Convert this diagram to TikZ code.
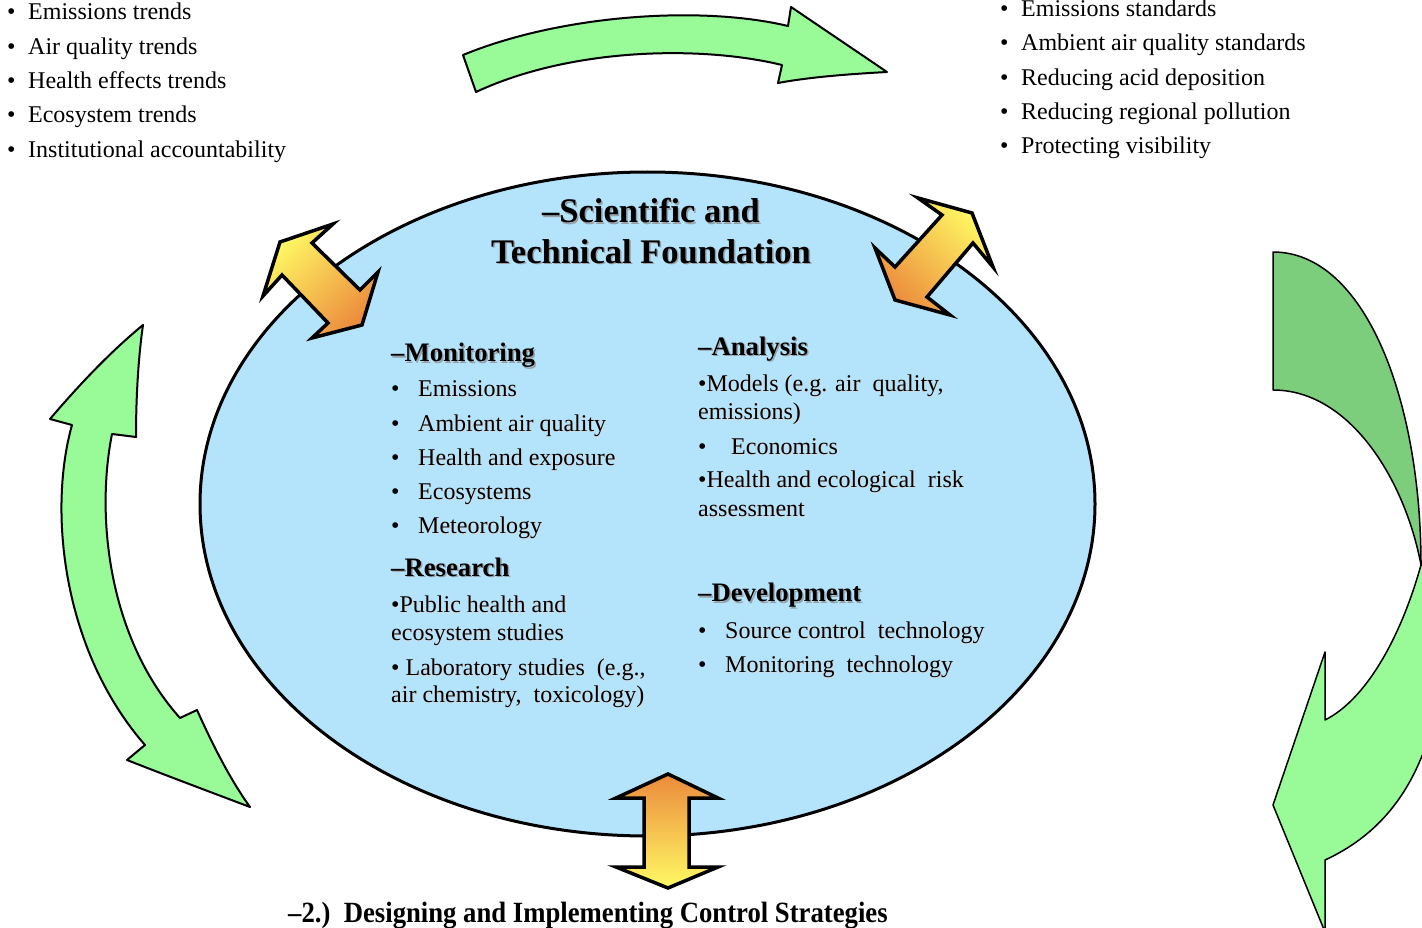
\documentclass[tikz,border=0pt]{standalone}
\usepackage{fontspec}
\setmainfont{Liberation Serif}
\usetikzlibrary{shapes.geometric}
\definecolor{skyfill}{RGB}{180,228,252}
\definecolor{lgreen}{RGB}{152,251,152}
\definecolor{dgreen}{RGB}{124,205,124}
\definecolor{arrY}{RGB}{255,250,100}
\definecolor{arrO}{RGB}{236,138,60}
\definecolor{shdgray}{RGB}{150,160,168}
\newcommand\shtext[1]{\leavevmode\rlap{\kern1.5pt\raisebox{-1.5pt}{\textcolor{shdgray}{#1}}}#1}
\newcommand\shlight[1]{\leavevmode\rlap{\kern1pt\raisebox{-1pt}{\textcolor{shdgray!40}{#1}}}#1}
\begin{document}
\begin{tikzpicture}[x=1pt,y=-1pt,
  txt/.style={anchor=base west,inner sep=0pt,font=\fontsize{24}{28}\selectfont},
  headtxt/.style={anchor=base west,inner sep=0pt,font=\fontsize{26.7}{30}\selectfont\bfseries},
  titletxt/.style={anchor=base,inner sep=0pt,font=\fontsize{34.5}{38}\selectfont\bfseries},
  greenarrow/.style={fill=lgreen,draw=black,line width=2pt,line join=round},
  dblarrow/.style={draw=black,line width=3.5pt,line join=miter}]
\useasboundingbox (0,0) rectangle (1422,928);

% top curved arrow
\path[greenarrow] (463,55) .. controls (560,15) and (700,5) .. (788,26) -- (791,7) -- (887,72)
  .. controls (850,74) and (810,77) .. (778,83) -- (782,65)
  .. controls (700,45) and (570,48) .. (476,92) -- cycle;

% left double curved arrow
\path[greenarrow] (143,325) .. controls (138,360) and (136,400) .. (136,437) -- (112,434)
  .. controls (95,520) and (110,640) .. (180,718) -- (197,710)
  .. controls (215,750) and (232,782) .. (250,807)
  .. controls (205,790) and (165,775) .. (127,760) -- (145,745)
  .. controls (62,650) and (48,510) .. (72,425) -- (50,419)
  .. controls (85,378) and (115,348) .. (143,325) -- cycle;

% right twisted arrow
\begin{scope}
\clip (0,0) rectangle (1422,928);
\path[fill=dgreen,draw=black,line width=1.5pt,line join=round] (1273,252) .. controls (1365,252) and (1421,400) .. (1421,565)
  .. controls (1405,480) and (1350,390) .. (1273,390) -- cycle;
\path[fill=lgreen,draw=black,line width=1.5pt,line join=round] (1421,565) .. controls (1400,640) and (1365,700) .. (1325,720)
  -- (1325,652) -- (1273,805) -- (1325,932) -- (1325,860)
  .. controls (1390,830) and (1435,770) .. (1445,650) -- (1445,565) -- cycle;
\end{scope}

% central ellipse
\node[ellipse,draw=black,fill=skyfill,line width=3pt,minimum width=895pt,minimum height=664pt,inner sep=0pt] (found) at (647.5,504) {};

% double arrows
\path[dblarrow,top color=arrY,bottom color=arrO,shading angle=45]
  (280,242) -- (333,224) -- (312,243) -- (360,290) -- (378,272) -- (362,325)
  -- (312,338) -- (328,323) -- (282,275) -- (263,296) -- cycle;
\path[dblarrow,top color=arrY,bottom color=arrO,shading angle=-45]
  (918,198) -- (972,213) -- (993,267) -- (973,243) -- (927,297) -- (950,315)
  -- (895,300) -- (875,248) -- (895,267) -- (942,215) -- cycle;
\path[dblarrow,top color=arrO,bottom color=arrY]
  (668,774) -- (718,798) -- (689,798) -- (689,867) -- (718,867) -- (668,888)
  -- (616,867) -- (644,867) -- (644,798) -- (616,798) -- cycle;

% top-left list
\node[txt] (tl1) at (7,20) {\makebox[21pt][l]{•}Emissions trends};
\node[txt] (tl2) at (7,54.3) {\makebox[21pt][l]{•}Air quality trends};
\node[txt] (tl3) at (7,88.6) {\makebox[21pt][l]{•}Health effects trends};
\node[txt] (tl4) at (7,122.9) {\makebox[21pt][l]{•}Ecosystem trends};
\node[txt] (tl5) at (7,157.2) {\makebox[21pt][l]{•}Institutional accountability};

% top-right list
\node[txt] (tr1) at (1000,16.5) {\makebox[21pt][l]{•}Emissions standards};
\node[txt] (tr2) at (1000,50.8) {\makebox[21pt][l]{•}Ambient air quality standards};
\node[txt] (tr3) at (1000,85.1) {\makebox[21pt][l]{•}Reducing acid deposition};
\node[txt] (tr4) at (1000,119.4) {\makebox[21pt][l]{•}Reducing regional pollution};
\node[txt] (tr5) at (1000,153.7) {\makebox[21pt][l]{•}Protecting visibility};

% title
\node[titletxt] (title1) at (651,222.7) {\shtext{–Scientific and}};
\node[titletxt] (title2) at (651,263.3) {\shtext{Technical Foundation}};

% monitoring
\node[headtxt] (mon) at (391,361.7) {\shtext{–Monitoring}};
\node[txt] (mon1) at (391,396) {\makebox[27pt][l]{•}\shlight{Emissions}};
\node[txt] (mon2) at (391,431) {\makebox[27pt][l]{•}\shlight{Ambient air quality}};
\node[txt] (mon3) at (391,465) {\makebox[27pt][l]{•}\shlight{Health and exposure}};
\node[txt] (mon4) at (391,499) {\makebox[27pt][l]{•}\shlight{Ecosystems}};
\node[txt] (mon5) at (391,533) {\makebox[27pt][l]{•}\shlight{Meteorology}};

% research
\node[headtxt] (res) at (391,576) {\shtext{–Research}};
\node[txt] (res1) at (391,612.7) {\shlight{•Public health and}};
\node[txt] (res1b) at (391,640) {\shlight{ecosystem studies}};
\node[txt] (res2) at (391,675) {\shlight{• Laboratory studies\ \ (e.g.,}};
\node[txt] (res2b) at (391,702.7) {\shlight{air chemistry,\ \ toxicology)}};

% analysis
\node[headtxt] (ana) at (698,355) {\shtext{–Analysis}};
\node[txt] (ana1) at (698,391.7) {\shlight{•Models (e.g. air\ \ quality,}};
\node[txt] (ana1b) at (698,419) {\shlight{emissions)}};
\node[txt] (ana2) at (698,454) {\makebox[33pt][l]{•}\shlight{Economics}};
\node[txt] (ana3) at (698,487.7) {\shlight{•Health and ecological\ \ risk}};
\node[txt] (ana3b) at (698,516) {\shlight{assessment}};

% development
\node[headtxt] (dev) at (698,601.7) {\shtext{–Development}};
\node[txt] (dev1) at (698,638) {\makebox[27pt][l]{•}\shlight{Source control\ \ technology}};
\node[txt] (dev2) at (698,672.7) {\makebox[27pt][l]{•}\shlight{Monitoring\ \ technology}};

% bottom label
\node[headtxt] (ctrl) at (288,922) {\scalebox{1}[1.1]{–2.)\ \ Designing and Implementing Control Strategies}};
\end{tikzpicture}
\end{document}
